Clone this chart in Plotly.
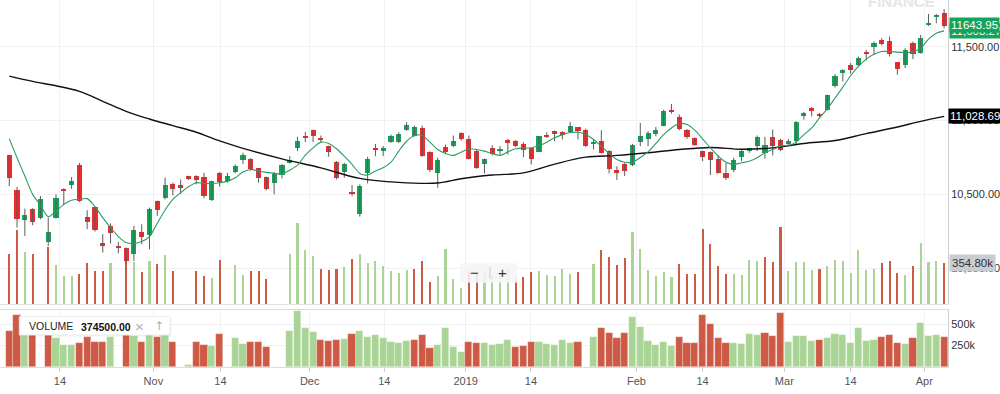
import plotly.graph_objects as go

# ---------------- data ----------------
open_ = [10764,10527,10327,10403,10342,10180,10342,10538,10561,10696,
         10347,10414,10167,10286,10151,10133,10095,10248,10223,10455,
         10473,10568,10563,10624,10624,10617,10460,10642,10590,10653,
         10736,10741,10676,10617,10579,10631,10714,10811,10899,10935,
         10883,10827,10721,10653,10518,10365,10646,10815,10793,10856,
         10854,10935,10894,10950,10788,10646,10822,10827,10917,10872,
         10797,10707,10811,10791,10867,10865,10842,10811,10788,10905,
         10928,10921,10923,10955,10939,10845,10865,10797,10662,10709,
         10698,10856,10876,10912,10966,11074,11025,10939,10883,10793,
         10786,10743,10646,10662,10755,10793,10827,10782,10887,10867,
         10842,10860,11029,11086,11045,11074,11232,11327,11378,11374,
         11468,11498,11547,11543,11394,11374,11529,11457,11653,11705,11728]
high = [10768,10550,10403,10406,10489,10342,10500,10540,10617,10714,
        10392,10417,10230,10302,10178,10140,10286,10297,10410,10458,
        10613,10579,10601,10626,10629,10646,10592,10651,10646,10703,
        10782,10745,10680,10620,10651,10707,10759,10890,10923,10939,
        10899,10830,10725,10714,10563,10568,10755,10842,10827,10905,
        10921,10989,10966,10966,10792,10748,10838,10899,10921,10899,
        10800,10743,10833,10827,10876,10868,10854,10815,10897,10921,
        10932,10928,10991,10957,10946,10872,10935,10800,10691,10712,
        10842,10984,10928,10957,11074,11113,11041,10942,10886,10797,
        10790,10766,10714,10748,10809,10815,10899,10890,10939,10876,
        10876,10996,11059,11092,11052,11176,11315,11349,11390,11435,
        11480,11536,11559,11570,11398,11491,11536,11581,11723,11723,11755]
low = [10556,10275,10218,10291,10331,10151,10336,10426,10538,10448,
       10264,10248,10106,10167,10101,10030,10049,10162,10128,10354,
       10466,10493,10505,10597,10568,10473,10455,10552,10579,10642,
       10707,10660,10579,10527,10500,10608,10709,10793,10854,10854,
       10849,10755,10601,10613,10489,10349,10574,10759,10759,10849,
       10849,10932,10890,10755,10651,10545,10777,10820,10865,10737,
       10673,10642,10764,10770,10770,10820,10752,10703,10786,10883,
       10860,10872,10917,10872,10822,10804,10777,10642,10597,10624,
       10691,10827,10827,10894,10962,11047,10935,10876,10827,10725,
       10631,10640,10597,10651,10725,10782,10793,10741,10764,10793,
       10831,10833,11007,11029,11018,11070,11225,11266,11318,11367,
       11408,11446,11509,11435,11311,11356,11417,11453,11642,11660,11626]
close = [10608,10331,10358,10313,10466,10248,10478,10523,10590,10455,
         10313,10259,10155,10236,10137,10049,10259,10214,10403,10392,
         10561,10534,10541,10606,10595,10489,10590,10583,10624,10691,
         10768,10669,10608,10538,10640,10696,10732,10865,10881,10894,
         10867,10786,10608,10703,10500,10556,10743,10800,10811,10894,
         10912,10973,10955,10759,10664,10732,10788,10865,10872,10743,
         10680,10737,10775,10809,10854,10827,10804,10741,10894,10892,
         10908,10905,10966,10928,10831,10856,10782,10669,10651,10658,
         10838,10899,10917,10939,11063,11059,10946,10890,10833,10752,
         10730,10646,10608,10736,10793,10811,10887,10838,10827,10800,
         10865,10991,11052,11063,11029,11171,11300,11340,11340,11423,
         11457,11525,11520,11453,11351,11480,11450,11563,11660,11712,11643.95]

ma_short = [10878,10748,10624,10500,10426,10349,10385,10432,10460,10466,
            10471,10417,10342,10275,10214,10173,10167,10180,10214,10304,
            10394,10466,10511,10552,10579,10574,10574,10579,10588,10613,
            10651,10669,10658,10649,10642,10638,10664,10698,10766,10815,
            10854,10845,10809,10759,10703,10642,10631,10658,10680,10718,
            10793,10860,10899,10899,10854,10804,10777,10764,10786,10809,
            10804,10793,10777,10764,10788,10809,10815,10815,10831,10854,
            10883,10905,10919,10921,10905,10872,10827,10777,10736,10718,
            10718,10750,10788,10845,10905,10950,10980,10973,10935,10876,
            10815,10759,10718,10703,10714,10725,10748,10782,10804,10827,
            10831,10854,10905,10950,11018,11079,11153,11227,11304,11367,
            11417,11450,11468,11468,11464,11462,11466,11491,11552,11592,11608.27]

ma_long_idx = [0, 3, 6, 9, 12, 15, 18, 21, 24, 27, 30, 35, 40, 45, 50, 55, 58, 62,
               66, 70, 74, 78, 82, 86, 90, 94, 98, 102, 106, 110, 114, 117, 120]
ma_long_val = [11302, 11266, 11236, 11198, 11131, 11063, 11011, 10966, 10921, 10862,
               10812, 10741, 10680, 10608, 10581, 10577, 10606, 10631, 10646, 10705,
               10752, 10764, 10782, 10804, 10818, 10806, 10815, 10845, 10865, 10912,
               10957, 10995, 11028.69]

volume_k = [419, 600, 441, 426, None, 471, 341, 256, 256, 275,
            353, 295, 295, 352, None, 434, 365, 287, 372, 347,
            414, 295, None, 23, 295, 256, 244, 380, None, 341,
            264, 295, 295, 236, None, None, 419, 655, 450, 411,
            314, 306, 314, 326, 384, 419, 353, 372, 333, 295,
            283, 306, 314, 372, 217, 256, 457, 236, 171, 295,
            275, 283, 256, 264, 314, 236, 248, 287, 295, 264,
            256, 314, 275, 287, None, 345, 450, 399, 341, 391,
            585, 461, 302, 256, 287, 248, 345, 275, 275, 605,
            500, 333, 275, 275, 264, 380, 372, 399, 360, 624,
            295, 360, 360, 306, 314, 333, 380, 372, 283, 450,
            306, 314, 353, 372, 283, 267, 333, 508, 360, 372, 354.8]
volume_dir = list("ddud-duuud" "dddu-dudud" "ud-uddud-u" "uddd--uuuu" "ddduduuuuu"
                  "uuddduuuud" "duuuuddduu" "uuud-udddd" "uuuuuudddd" "ddduuuuddd"
                  "uuuuduuuuu" "uuddduduuud")

tick_vals = [6.5, 18.5, 27.1, 38.56, 48.14, 58.59, 66.97, 80.51, 88.99, 99.49, 108.0, 117.46]
tick_text = ["14", "Nov", "14", "Dec", "14", "2019", "14", "Feb", "14", "Mar", "14", "Apr"]

price_ticks = [10000, 10500, 11000, 11500]
vol_ticks = [250000, 500000]
vol_tick_text = ["250k", "500k"]

last_close_label = "11643.95"
short_ma_label = "11,608.27"
long_ma_label = "11,028.69"
last_volume_label = "354.80k"
volume_box_value = "374500.00"

# ---------------- styling ----------------
FONT = "Liberation Sans, Arial, sans-serif"
UP = "#13a35a"
DOWN = "#ef2b2d"
VUP = "#a9d495"
VDOWN = "#cc5a44"
GRID = "#f1f1f3"

n = len(close)
xs = list(range(n))
volume = [None if v is None else v * 1000 for v in volume_k]
vcolors = [VUP if d == "u" else VDOWN for d in volume_dir]

fig = go.Figure()

# thin volume bars inside the price panel (base axis y, under candles)
fig.add_trace(go.Bar(x=xs, y=volume, marker=dict(color=vcolors, line=dict(width=0)),
                     width=0.27, xaxis="x", yaxis="y", hoverinfo="skip"))

# wicks
wx, wy = [], []
for i in xs:
    wx += [i, i, None]
    wy += [low[i], high[i], None]
fig.add_trace(go.Scatter(x=wx, y=wy, mode="lines", line=dict(color="#5a5a5a", width=1),
                         xaxis="x", yaxis="y3", hoverinfo="skip"))

# bodies
base = [min(o, c) for o, c in zip(open_, close)]
height = [max(abs(c - o), 7) for o, c in zip(open_, close)]
bcol = [UP if c >= o else DOWN for o, c in zip(open_, close)]
fig.add_trace(go.Bar(x=xs, y=height, base=base, marker=dict(color=bcol, line=dict(width=0)),
                     width=0.66, xaxis="x", yaxis="y3", hoverinfo="skip"))

# moving averages
fig.add_trace(go.Scatter(x=ma_long_idx, y=ma_long_val, mode="lines",
                         line=dict(color="#111111", width=1.4, shape="spline", smoothing=1.0),
                         xaxis="x", yaxis="y3", hoverinfo="skip"))
fig.add_trace(go.Scatter(x=xs, y=ma_short, mode="lines",
                         line=dict(color="#2f9a63", width=1.1, shape="spline", smoothing=0.8),
                         xaxis="x", yaxis="y3", hoverinfo="skip"))

# lower volume panel
fig.add_trace(go.Bar(x=xs, y=volume,
                     marker=dict(color=vcolors, line=dict(width=0.6, color="rgba(255,255,255,0.45)")),
                     width=0.92, xaxis="x2", yaxis="y2", hoverinfo="skip"))

H_PLOT = 367.0
W_PLOT = 948.0
def py(p):
    return (H_PLOT - p) / H_PLOT
def px(p):
    return p / W_PLOT

main_dom = [py(304), 1]
low_dom = [0, py(310)]
xr = [-1.19, 120.5]

fig.update_layout(
    width=1000, height=394,
    margin=dict(l=0, r=52, t=0, b=27, autoexpand=False),
    paper_bgcolor="white", plot_bgcolor="white",
    showlegend=False, barmode="overlay", bargap=0,
    font=dict(family=FONT, size=11, color="#444"),
    xaxis=dict(domain=[0, 1], range=xr, anchor="y", tickvals=tick_vals, showticklabels=False,
               showgrid=True, gridcolor=GRID, zeroline=False, showline=True,
               linecolor="#e2e2e2", linewidth=1, ticks=""),
    yaxis=dict(domain=main_dom, range=[51000, 2310000], visible=False, fixedrange=True),
    yaxis3=dict(overlaying="y", anchor="x", side="right", range=[9756.7, 11817.6],
                tickvals=price_ticks, tickformat=",.2f", showgrid=True, gridcolor=GRID,
                zeroline=False, showline=True, linecolor="#cfcfcf", linewidth=1,
                ticks="", tickfont=dict(size=11, color="#333")),
    xaxis2=dict(domain=[0, 1], range=xr, anchor="y2", matches="x", tickvals=tick_vals,
                ticktext=tick_text, showgrid=True, gridcolor=GRID, zeroline=False,
                showline=True, mirror=True, linecolor="#dcdcdc", linewidth=1,
                ticks="outside", ticklen=4, tickcolor="#cfcfcf",
                tickfont=dict(size=11, color="#555")),
    yaxis2=dict(domain=low_dom, anchor="x2", side="right", range=[0, 663000],
                tickvals=vol_ticks, ticktext=vol_tick_text, showgrid=True, gridcolor=GRID,
                zeroline=False, showline=True, linecolor="#cfcfcf", linewidth=1, ticks="",
                tickfont=dict(size=11, color="#333")),
)

LBL = 11.5
ann = []
# right-edge value labels
ann.append(dict(x=1, xref="paper", y=ma_short[-1], yref="y3", xanchor="left", yanchor="middle",
                text=short_ma_label, showarrow=False, bgcolor=UP, borderpad=1,
                font=dict(color="white", size=LBL, family=FONT), xshift=1))
ann.append(dict(x=1, xref="paper", y=close[-1], yref="y3", xanchor="left", yanchor="middle",
                text=last_close_label, showarrow=False, bgcolor=UP, borderpad=1,
                font=dict(color="white", size=LBL, family=FONT), xshift=1, yshift=1))
ann.append(dict(x=1, xref="paper", y=ma_long_val[-1], yref="y3", xanchor="left", yanchor="middle",
                text=long_ma_label, showarrow=False, bgcolor="#000000", borderpad=1,
                font=dict(color="white", size=LBL, family=FONT), xshift=0))
ann.append(dict(x=1, xref="paper", y=volume[-1], yref="y", xanchor="left", yanchor="middle",
                text=last_volume_label, showarrow=False, bgcolor="#c8ccd3", borderpad=2,
                font=dict(color="#333", size=LBL, family=FONT), xshift=1))
# watermark
ann.append(dict(x=px(901), xref="paper", y=1, yref="paper", xanchor="center", yanchor="middle",
                text="<b>FINANCE</b>", showarrow=False, yshift=-1,
                font=dict(color="#e6e6e6", size=15, family=FONT)))
# volume info box
ann.append(dict(x=px(27), xref="paper", y=py(326), yref="paper", xanchor="left", yanchor="middle",
                text="VOLUME", showarrow=False, font=dict(color="#222", size=10.5, family=FONT)))
ann.append(dict(x=px(79), xref="paper", y=py(326.5), yref="paper", xanchor="left", yanchor="middle",
                text="<b>" + volume_box_value + "</b>", showarrow=False,
                font=dict(color="#111", size=10.5, family=FONT)))
ann.append(dict(x=px(139.5), xref="paper", y=py(326), yref="paper", xanchor="center", yanchor="middle",
                text="×", showarrow=False, font=dict(color="#b0b0b0", size=15, family=FONT)))
ann.append(dict(x=px(158.5), xref="paper", y=py(326), yref="paper", xanchor="center", yanchor="middle",
                text="↑", showarrow=False, font=dict(color="#b0b0b0", size=12, family="DejaVu Sans")))
# zoom control
ann.append(dict(x=px(474), xref="paper", y=py(272.5), yref="paper", xanchor="center", yanchor="middle",
                text="−", showarrow=False, font=dict(color="#333", size=15, family=FONT)))
ann.append(dict(x=px(502.5), xref="paper", y=py(272.5), yref="paper", xanchor="center", yanchor="middle",
                text="+", showarrow=False, font=dict(color="#333", size=15, family=FONT)))
fig.update_layout(annotations=ann)

shapes = []
shapes.append(dict(type="rect", xref="paper", yref="paper", x0=px(20.3), x1=px(171.5),
                   y0=py(336.5), y1=py(317.5), fillcolor="rgba(0,0,0,0.05)", line=dict(width=0),
                   layer="above"))
shapes.append(dict(type="rect", xref="paper", yref="paper", x0=px(19.3), x1=px(170),
                   y0=py(335), y1=py(316.7), fillcolor="white", line=dict(color="#ececec", width=1),
                   layer="above"))
shapes.append(dict(type="rect", xref="paper", yref="paper", x0=px(460), x1=px(517),
                   y0=py(282.7), y1=py(263.3), fillcolor="rgba(245,245,246,0.88)",
                   line=dict(width=0), layer="above"))
shapes.append(dict(type="line", xref="paper", yref="paper", x0=px(490), x1=px(490),
                   y0=py(279), y1=py(267), line=dict(color="#cccccc", width=1), layer="above"))
fig.update_layout(shapes=shapes)

fig.write_html("out.html", config={"displayModeBar": False},
               post_script="document.body.style.margin='0px';document.body.style.overflow='hidden';")
